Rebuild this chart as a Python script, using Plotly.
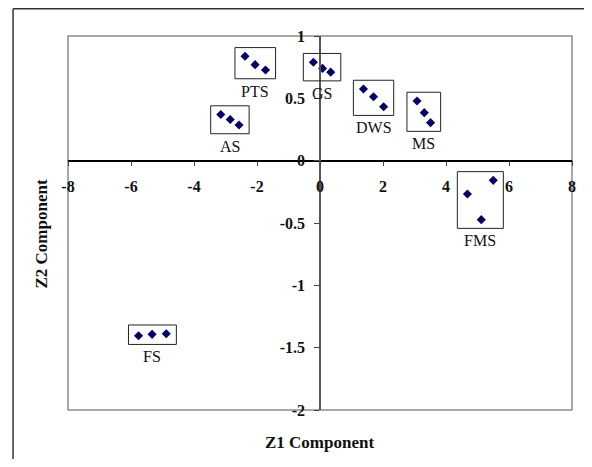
import plotly.graph_objects as go

# ---- data ----
groups = ["PTS", "GS", "AS", "DWS", "MS", "FMS", "FS"]
z1 = {
    "PTS": [-2.38, -2.06, -1.73],
    "GS":  [-0.21, 0.08, 0.34],
    "AS":  [-3.15, -2.85, -2.57],
    "DWS": [1.38, 1.70, 2.02],
    "MS":  [3.08, 3.31, 3.51],
    "FMS": [4.68, 5.12, 5.50],
    "FS":  [-5.76, -5.33, -4.88],
}
z2 = {
    "PTS": [0.837, 0.770, 0.727],
    "GS":  [0.790, 0.740, 0.710],
    "AS":  [0.370, 0.330, 0.286],
    "DWS": [0.575, 0.513, 0.433],
    "MS":  [0.479, 0.385, 0.305],
    "FMS": [-0.267, -0.473, -0.158],
    "FS":  [-1.404, -1.393, -1.388],
}
x_ticks = [-8, -6, -4, -2, 0, 2, 4, 6, 8]
y_ticks = [-2, -1.5, -1, -0.5, 0, 0.5, 1]

FONT = "Liberation Serif, Times New Roman, serif"
PADX, PADY = 0.32, 0.07

fig = go.Figure()
all_x = [v for g in groups for v in z1[g]]
all_y = [v for g in groups for v in z2[g]]
fig.add_trace(go.Scatter(
    x=all_x, y=all_y, mode="markers",
    marker=dict(symbol="diamond", size=7, color="#000066"),
    showlegend=False, hoverinfo="x+y",
))

shapes = []
annotations = []
for g in groups:
    x0, x1 = min(z1[g]) - PADX, max(z1[g]) + PADX
    y0, y1 = min(z2[g]) - PADY, max(z2[g]) + PADY
    shapes.append(dict(type="rect", xref="x", yref="y", x0=x0, x1=x1, y0=y0, y1=y1,
                       line=dict(color="#222222", width=1)))
    annotations.append(dict(x=(x0 + x1) / 2, y=y0, xref="x", yref="y", text=g,
                            showarrow=False, yanchor="top", yshift=-2,
                            font=dict(family=FONT, size=16, color="#111111")))

# plot area border (grey)
shapes.append(dict(type="rect", xref="paper", yref="paper", x0=0, x1=1, y0=0, y1=1,
                   line=dict(color="#8c8c8c", width=1.5), layer="below"))
# outer chart border (left and top edges visible in the reference)
shapes.append(dict(type="line", xref="paper", yref="paper", x0=-0.109, x1=-0.109,
                   y0=-0.3, y1=1.073, line=dict(color="#333333", width=1.5)))
shapes.append(dict(type="line", xref="paper", yref="paper", x0=-0.109, x1=1.2,
                   y0=1.073, y1=1.073, line=dict(color="#333333", width=1.5)))

annotations.append(dict(text="<b>Z1 Component</b>", xref="paper", yref="paper",
                        x=0.499, y=-0.088, showarrow=False, yanchor="middle",
                        font=dict(family=FONT, size=17, color="#111111")))
annotations.append(dict(text="<b>Z2 Component</b>", xref="paper", yref="paper",
                        x=-0.053, y=0.47, showarrow=False, textangle=-90,
                        xanchor="center", yanchor="middle",
                        font=dict(family=FONT, size=17, color="#111111")))

fig.update_layout(
    width=576, height=451,
    margin=dict(l=60, r=8, t=28, b=49),
    paper_bgcolor="white", plot_bgcolor="white",
    shapes=shapes, annotations=annotations,
    xaxis=dict(range=[-8, 8], tickvals=x_ticks, ticktext=[f"<b>{v}</b>" for v in x_ticks],
               showgrid=False, zeroline=False, showline=True, linecolor="#000000",
               linewidth=1.5, ticks="outside", ticklen=5, tickcolor="#444444",
               anchor="free", position=2 / 3, ticklabelstandoff=6,
               tickfont=dict(family=FONT, size=16, color="#111111"), fixedrange=True),
    yaxis=dict(range=[-2, 1], tickvals=y_ticks,
               ticktext=[f"<b>{v:g}</b>" for v in y_ticks],
               showgrid=False, zeroline=False, showline=True, linecolor="#555555",
               linewidth=1.5, ticks="outside", ticklen=5, tickcolor="#444444",
               anchor="free", position=0.5, ticklabelstandoff=6,
               tickfont=dict(family=FONT, size=16, color="#111111"), fixedrange=True),
)

fig.write_html("out.html")
